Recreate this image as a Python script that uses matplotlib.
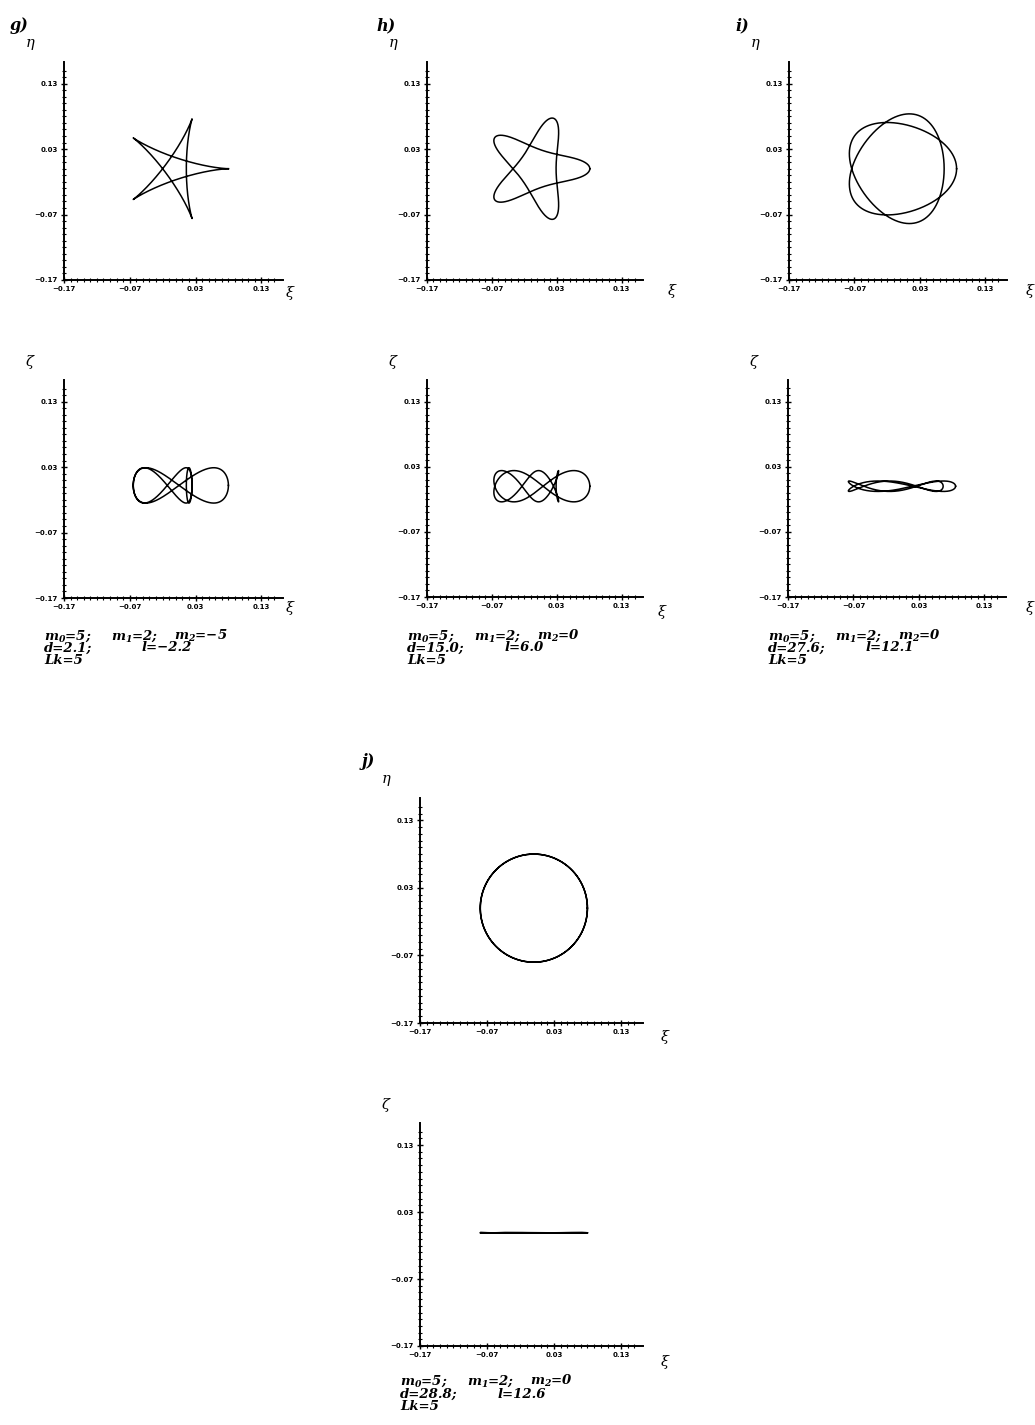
import numpy as np
import matplotlib
matplotlib.use("Agg")
import matplotlib.pyplot as plt

plt.rcParams['mathtext.fontset'] = 'custom'
plt.rcParams['mathtext.it'] = 'DejaVu Serif:italic:bold'
plt.rcParams['mathtext.rm'] = 'DejaVu Serif:italic:bold'

W, H = 1035, 1425

# panel data
panels = ['g', 'h', 'i', 'j']
big_circle = [0.048, 0.055, 0.0765, 0.080]    # radius turning twice
small_circle = [0.032, 0.023, 0.0095, 0.0]    # radius turning back three times
round_tip = [0.0, 0.003, 0.0, 0.0]            # radius turning seven times (rounds the tips)
zeta_amp = [0.027, 0.024, 0.008, 0.0004]
zeta_off = [0.002, 0.0, 0.0, -0.001]
m0 = [5, 5, 5, 5]
m1 = [2, 2, 2, 2]
m2 = ['\u22125', '0', '0', '0']
d_vals = ['2.1', '15.0', '27.6', '28.8']
l_vals = ['\u22122.2', '6.0', '12.1', '12.6']
Lk = [5, 5, 5, 5]

ticks = [-0.17, -0.07, 0.03, 0.13]
tick_labels = ['\u22120.17', '\u22120.07', '0.03', '0.13']
lim = (-0.17, 0.163)

# pixel boxes: left, right, top, bottom (top view, side view)
top_box = [(64, 283, 62, 280), (427, 643, 62, 280), (789, 1007, 62, 280), (420, 643, 798, 1023)]
side_box = [(64, 283, 380, 598), (427, 643, 380, 597), (788, 1006, 380, 597), (420, 643, 1123, 1346)]
tag_xy = [(10, 26), (376, 26), (735, 26), (362, 762)]
xi_top = [(290, 293), (672, 291), (1030, 291), (665, 1037)]
xi_side = [(290, 608), (662, 612), (1030, 608), (665, 1362)]
txt_y = [(636, 648, 660), (636, 648, 660), (636, 648, 660), (1381, 1394, 1406)]

fig = plt.figure(figsize=(W / 100, H / 100), dpi=100)


def make_ax(box):
    l, r, t, b = box
    ax = fig.add_axes([l / W, 1 - b / H, (r - l) / W, (b - t) / H])
    ax.set_xlim(lim)
    ax.set_ylim(lim)
    for s in ['top', 'right']:
        ax.spines[s].set_visible(False)
    for s in ['left', 'bottom']:
        ax.spines[s].set_linewidth(1.4)
    ax.set_xticks(ticks)
    ax.set_yticks(ticks)
    ax.set_xticklabels(tick_labels, fontsize=5, fontweight='bold')
    ax.set_yticklabels(tick_labels, fontsize=5, fontweight='bold')
    ax.set_xticks(np.arange(-0.16, 0.16, 0.01), minor=True)
    ax.set_yticks(np.arange(-0.16, 0.16, 0.01), minor=True)
    ax.tick_params(which='major', direction='inout', length=5, width=1, pad=2)
    ax.tick_params(which='minor', direction='inout', length=2.5, width=0.8)
    return ax


def fx(px):
    return px / W


def fy(py):
    return 1 - py / H


def serif_text(x, y, s, size=9.5, **kw):
    fig.text(fx(x), fy(y), s, fontsize=size, family='DejaVu Serif',
             style='italic', weight='bold', va='center', **kw)


def greek(x, y, s):
    fig.text(fx(x), fy(y), s, fontsize=10.5, family='DejaVu Serif',
             style='italic', ha='center', va='center')


t = np.linspace(0, 2 * np.pi, 4000)
for k in range(4):
    A, B, C = big_circle[k], small_circle[k], round_tip[k]
    xi = A * np.cos(2 * t) + B * np.cos(3 * t) + C * np.cos(7 * t)
    eta = A * np.sin(2 * t) - B * np.sin(3 * t) + C * np.sin(7 * t)
    zeta = zeta_amp[k] * np.sin(5 * t) + zeta_off[k]

    ax = make_ax(top_box[k])
    ax.plot(xi, eta, color='black', lw=1.1)
    ax2 = make_ax(side_box[k])
    ax2.plot(xi, zeta, color='black', lw=1.1)

    l, r, tp, b = top_box[k]
    serif_text(tag_xy[k][0], tag_xy[k][1], panels[k] + ')', size=11.5)
    greek(l - 34, tp - 19, '\u03b7')
    greek(xi_top[k][0], xi_top[k][1], '\u03be')
    l2, r2, tp2, b2 = side_box[k]
    greek(l2 - 34, tp2 - 18, '\u03b6')
    greek(xi_side[k][0], xi_side[k][1], '\u03be')

    x0 = l2 - 20
    y1, y2, y3 = txt_y[k]
    serif_text(x0, y1, r'$m_0$=%d;' % m0[k])
    serif_text(x0 + 67, y1, r'$m_1$=%d;' % m1[k])
    serif_text(x0 + 130, y1, r'$m_2$=%s' % m2[k])
    serif_text(x0, y2, 'd=%s;' % d_vals[k])
    serif_text(x0 + 98, y2, 'l=%s' % l_vals[k])
    serif_text(x0, y3, 'Lk=%d' % Lk[k])

fig.savefig('out.png', dpi=100)
